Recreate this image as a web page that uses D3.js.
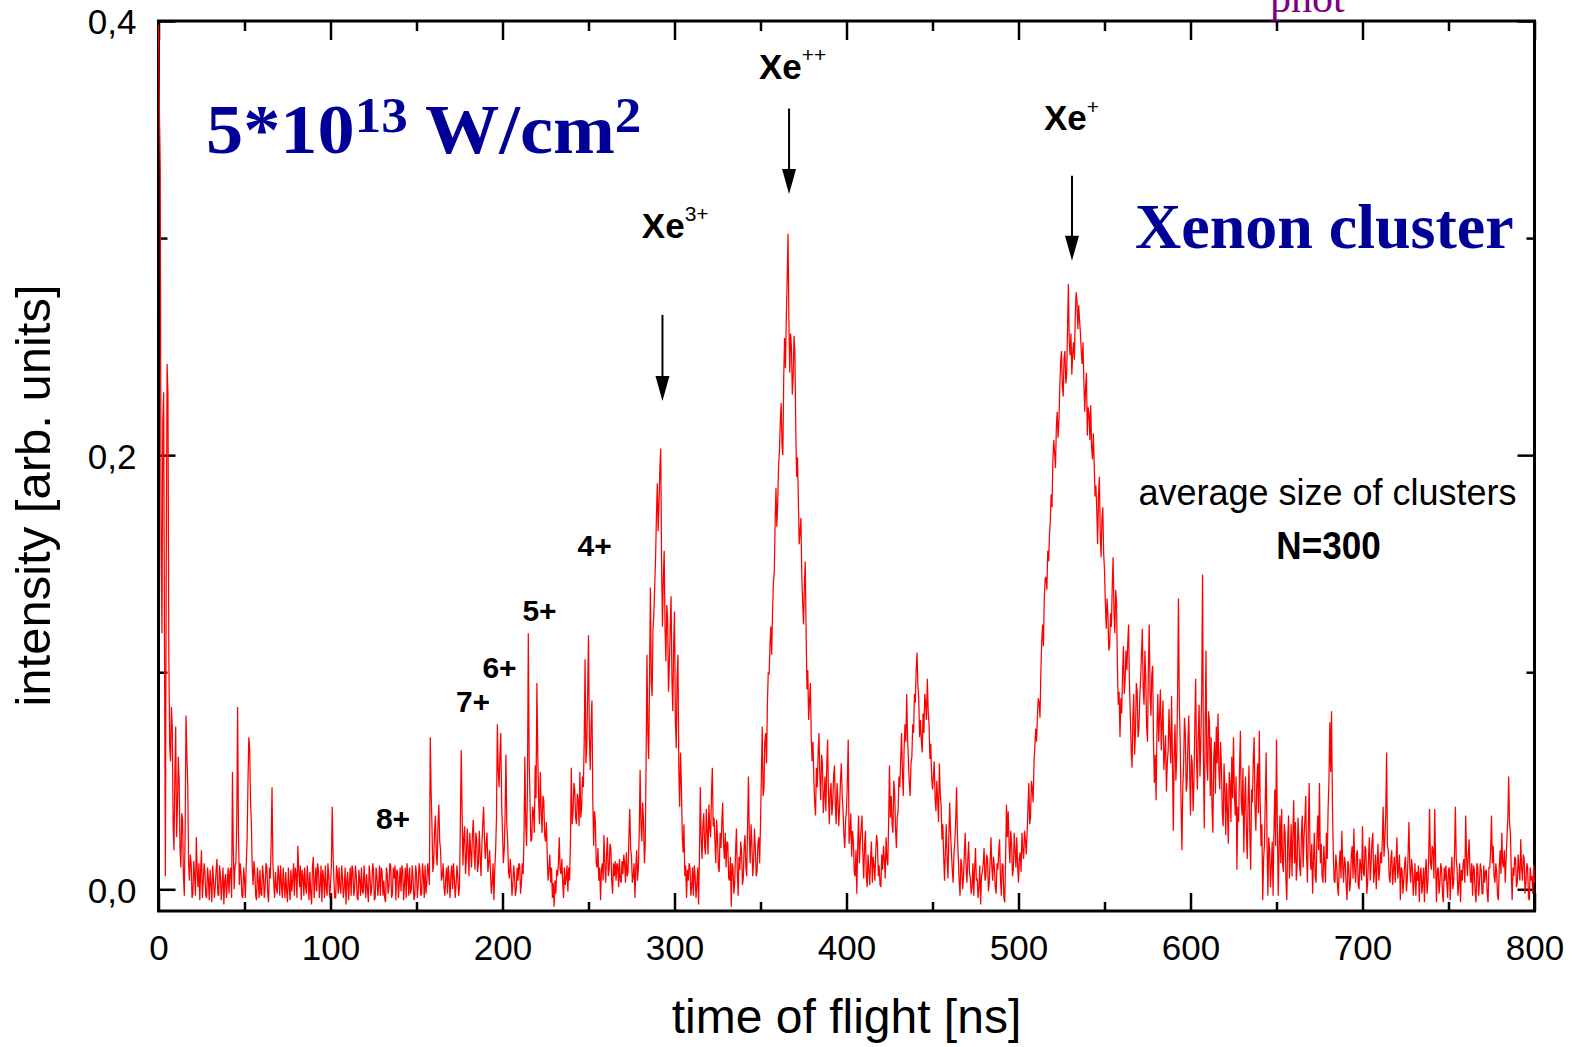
<!DOCTYPE html>
<html>
<head>
<meta charset="utf-8">
<script src="https://cdn.jsdelivr.net/npm/d3@7"></script>
<style>
  html, body { margin: 0; padding: 0; background: #ffffff; }
  svg { display: block; }
  text { white-space: pre; }
</style>
</head>
<body>
<svg id="chart" width="1576" height="1047"></svg>
<script>
// Time-of-flight sampling: samples on whole nanoseconds (signalNNN) and
// on the half nanoseconds in between (signalNNNHalf), starting at 0 ns
const tofStartNs = 0;
const tofStepNs = 1;

// Ion signal in arbitrary units, in blocks of 100 ns
const signal000 = [
  0.398, 0.333, 0.118, 0.229, 0.006, 0.242, 0.108, 0.059, 0.075, 0.018,
  0.075, 0.037, 0.050, 0.010, 0.032, -0.003, 0.080, 0.048, 0.004, 0.012,
  -0.002, 0.006, 0.024, 0.001, -0.005, 0.018, 0.003, 0.008, -0.004, 0.005,
  0.009, -0.006, 0.004, 0.001, 0.014, -0.003, 0.006, 0.002, -0.007, 0.007,
  0.003, -0.002, 0.010, 0.054, 0.000, 0.012, 0.084, 0.002, 0.007, -0.004,
  0.005, 0.011, 0.048, 0.065, 0.030, 0.002, 0.008, -0.005, 0.004, 0.009,
  -0.003, 0.006, 0.001, 0.010, -0.006, 0.005, 0.047, 0.003, 0.008, -0.002,
  0.006, 0.011, -0.004, 0.003, 0.008, -0.006, 0.002, 0.009, 0.004, -0.003,
  0.007, 0.020, 0.001, -0.005, 0.006, 0.010, -0.002, 0.004, 0.008, -0.007,
  0.015, 0.003, -0.001, 0.009, 0.002, -0.006, 0.005, 0.011, -0.003, 0.006
];
const signal000Half = [
  0.360, 0.160, 0.215, 0.110, 0.150, 0.228, 0.066, 0.084, 0.030, 0.052,
  0.024, 0.061, 0.019, 0.035, 0.006, 0.028, 0.062, 0.012, 0.016, -0.004,
  0.013, -0.003, 0.008, 0.012, 0.009, -0.004, 0.012, -0.003, 0.010, -0.005,
  0.002, 0.011, -0.004, 0.009, -0.002, 0.011, -0.005, 0.010, 0.004, -0.004,
  0.010, 0.008, -0.004, 0.018, 0.011, 0.031, 0.026, 0.012, -0.003, 0.010,
  -0.004, 0.022, 0.070, 0.041, 0.010, 0.013, -0.003, 0.010, -0.004, -0.002,
  0.011, -0.004, 0.012, -0.002, 0.010, 0.021, 0.012, -0.004, 0.001, 0.011,
  -0.003, 0.002, 0.010, -0.004, -0.001, 0.010, -0.005, -0.001, 0.012, 0.010,
  -0.004, 0.009, 0.011, 0.009, -0.003, 0.001, 0.011, -0.005, -0.002, 0.010,
  -0.004, 0.010, 0.012, -0.004, 0.011, 0.009, -0.004, 0.001, 0.012, -0.004
];
const signal100 = [
  0.002, 0.038, 0.004, -0.004, 0.007, 0.010, -0.002, 0.005, 0.001, -0.007,
  0.008, 0.003, -0.003, 0.009, 0.000, 0.006, -0.005, 0.004, 0.010, -0.002,
  0.003, 0.007, -0.006, 0.005, 0.001, 0.009, -0.004, 0.006, 0.002, -0.003,
  0.008, 0.004, -0.006, 0.007, 0.001, 0.011, -0.002, 0.005, -0.005, 0.008,
  0.003, -0.001, 0.009, 0.002, -0.004, 0.006, 0.010, 0.000, 0.005, -0.003,
  0.007, 0.002, 0.009, -0.002, 0.006, 0.011, 0.003, 0.008, 0.070, 0.029,
  0.012, 0.034, 0.011, 0.039, 0.018, 0.006, 0.001, 0.005, -0.002, 0.004,
  0.007, 0.000, 0.005, 0.002, 0.006, 0.001, 0.064, 0.011, 0.029, 0.014,
  0.018, 0.026, 0.010, 0.032, 0.009, 0.023, 0.012, 0.016, 0.020, 0.038,
  0.014, 0.026, 0.012, 0.008, 0.003, -0.005, 0.018, 0.076, 0.047, 0.072
];
const signal100Half = [
  0.011, 0.016, -0.004, 0.011, -0.002, 0.001, 0.011, -0.004, 0.010, 0.004,
  -0.005, 0.010, 0.011, -0.003, 0.011, -0.004, 0.009, -0.003, -0.001, 0.011,
  -0.004, 0.000, 0.011, -0.003, 0.012, -0.005, 0.010, -0.003, 0.011, 0.010,
  -0.003, -0.004, 0.010, -0.002, 0.012, -0.004, 0.010, 0.011, 0.009, -0.004,
  0.010, 0.011, -0.005, 0.010, 0.012, -0.003, -0.002, 0.011, -0.005, 0.011,
  -0.004, 0.012, -0.003, 0.012, -0.004, -0.002, 0.012, 0.002, 0.045, 0.008,
  0.027, 0.016, 0.030, 0.022, 0.004, 0.012, -0.003, 0.010, 0.011, -0.004,
  0.011, 0.012, -0.004, 0.011, -0.003, 0.030, 0.036, 0.024, 0.007, 0.028,
  0.006, 0.017, 0.025, 0.017, 0.026, 0.008, 0.027, 0.006, 0.030, 0.024,
  0.021, 0.008, 0.018, -0.002, 0.012, 0.009, 0.033, 0.055, 0.062, 0.040
];
const signal200 = [
  0.026, 0.018, 0.062, 0.022, 0.005, 0.008, 0.002, 0.006, 0.000, 0.004,
  0.011, 0.003, 0.007, 0.061, 0.020, 0.118, 0.041, 0.023, 0.036, 0.057,
  0.095, 0.041, 0.054, 0.026, 0.041, 0.022, 0.016, 0.009, 0.003, -0.004,
  -0.008, -0.002, 0.006, 0.024, 0.007, 0.003, 0.010, 0.005, -0.001, 0.004,
  0.056, 0.035, 0.046, 0.030, 0.041, 0.054, 0.038, 0.047, 0.106, 0.066,
  0.117, 0.055, 0.087, 0.020, 0.031, 0.010, 0.004, -0.005, 0.012, 0.025,
  0.003, 0.024, 0.009, 0.019, -0.002, 0.006, 0.004, 0.011, 0.014, 0.003,
  0.007, 0.012, 0.017, 0.008, 0.037, 0.015, 0.006, -0.004, 0.018, 0.010,
  0.055, 0.022, 0.031, 0.021, 0.108, 0.060, 0.139, 0.089, 0.127, 0.153,
  0.187, 0.178, 0.203, 0.121, 0.156, 0.105, 0.125, 0.103, 0.135, 0.082
];
const signal200Half = [
  0.012, 0.034, 0.030, 0.008, 0.014, -0.003, 0.011, -0.003, 0.010, 0.012,
  -0.002, 0.012, 0.024, 0.030, 0.046, 0.060, 0.022, 0.038, 0.026, 0.042,
  0.063, 0.030, 0.036, 0.043, 0.025, 0.031, 0.004, 0.016, 0.010, 0.003,
  0.004, 0.009, 0.012, 0.009, 0.014, -0.004, 0.002, 0.011, 0.010, 0.022,
  0.030, 0.049, 0.033, 0.044, 0.029, 0.033, 0.052, 0.068, 0.058, 0.090,
  0.070, 0.076, 0.041, 0.036, 0.012, 0.019, 0.010, 0.009, 0.004, 0.011,
  0.016, 0.006, 0.021, 0.004, 0.012, 0.013, 0.012, 0.001, 0.004, 0.013,
  0.016, 0.003, 0.006, 0.024, 0.019, 0.003, 0.012, 0.010, 0.004, 0.026,
  0.030, 0.040, 0.012, 0.060, 0.072, 0.098, 0.095, 0.120, 0.140, 0.172,
  0.165, 0.194, 0.150, 0.143, 0.120, 0.131, 0.091, 0.120, 0.097, 0.112
];
const signal300 = [
  0.128, 0.065, 0.108, 0.038, 0.048, 0.017, 0.006, -0.004, 0.004, 0.010,
  0.001, -0.003, 0.006, 0.002, -0.007, 0.047, 0.014, 0.035, 0.016, 0.027,
  0.039, 0.024, 0.056, 0.033, 0.012, 0.024, 0.008, 0.019, 0.040, 0.014,
  0.010, 0.021, 0.004, -0.008, 0.010, 0.003, 0.028, -0.003, 0.009, 0.017,
  0.005, 0.025, 0.006, 0.052, 0.012, 0.021, 0.013, 0.019, 0.008, 0.024,
  0.030, 0.075, 0.046, 0.072, 0.085, 0.099, 0.121, 0.128, 0.146, 0.185,
  0.178, 0.202, 0.224, 0.200, 0.254, 0.263, 0.302, 0.238, 0.249, 0.236,
  0.247, 0.190, 0.180, 0.165, 0.145, 0.122, 0.151, 0.092, 0.078, 0.095,
  0.059, 0.051, 0.034, 0.047, 0.072, 0.041, 0.058, 0.043, 0.036, 0.069,
  0.030, 0.049, 0.040, 0.057, 0.030, 0.041, 0.038, 0.058, 0.036, 0.019
];
const signal300Half = [
  0.078, 0.097, 0.056, 0.063, 0.025, 0.030, 0.011, 0.009, 0.012, -0.003,
  0.010, 0.011, -0.004, 0.010, 0.015, 0.024, 0.029, 0.020, 0.037, 0.016,
  0.028, 0.044, 0.029, 0.022, 0.032, 0.010, 0.026, 0.030, 0.021, 0.026,
  0.022, 0.005, 0.015, 0.012, -0.002, 0.017, 0.008, 0.015, 0.022, 0.002,
  0.020, 0.010, 0.030, 0.024, 0.030, 0.006, 0.028, 0.006, 0.021, 0.012,
  0.052, 0.043, 0.068, 0.058, 0.100, 0.112, 0.108, 0.141, 0.168, 0.167,
  0.195, 0.215, 0.205, 0.236, 0.240, 0.281, 0.262, 0.256, 0.228, 0.255,
  0.213, 0.199, 0.159, 0.171, 0.132, 0.140, 0.120, 0.101, 0.087, 0.070,
  0.068, 0.040, 0.056, 0.063, 0.052, 0.062, 0.035, 0.052, 0.056, 0.044,
  0.045, 0.034, 0.052, 0.039, 0.049, 0.029, 0.050, 0.043, 0.025, 0.032
];
const signal400 = [
  0.036, 0.069, 0.026, 0.015, 0.022, 0.006, -0.002, 0.034, 0.022, 0.034,
  0.005, 0.027, 0.001, 0.009, 0.014, 0.003, 0.011, 0.017, 0.021, 0.011,
  0.001, 0.009, 0.014, 0.024, 0.011, 0.057, 0.043, 0.026, 0.045, 0.019,
  0.036, 0.047, 0.072, 0.043, 0.076, 0.090, 0.059, 0.043, 0.061, 0.072,
  0.086, 0.109, 0.088, 0.078, 0.063, 0.072, 0.086, 0.097, 0.076, 0.067,
  0.046, 0.059, 0.036, 0.041, 0.058, 0.039, 0.030, 0.004, 0.030, 0.005,
  0.040, 0.017, 0.003, 0.022, 0.047, 0.014, -0.003, 0.011, 0.005, 0.026,
  0.003, 0.022, 0.005, 0.001, -0.003, 0.019, 0.005, 0.001, -0.007, 0.008,
  0.019, 0.006, 0.014, 0.003, 0.024, 0.004, 0.010, -0.002, 0.009, 0.023,
  -0.003, 0.011, -0.006, 0.039, 0.036, 0.012, 0.021, 0.009, 0.018, 0.024
];
const signal400Half = [
  0.050, 0.021, 0.035, 0.027, 0.008, 0.018, 0.020, 0.012, 0.028, 0.016,
  0.020, 0.006, 0.016, 0.002, 0.022, 0.015, 0.004, 0.025, 0.006, 0.002,
  0.016, 0.020, 0.005, 0.014, 0.031, 0.033, 0.030, 0.050, 0.028, 0.033,
  0.052, 0.060, 0.054, 0.065, 0.068, 0.070, 0.049, 0.058, 0.076, 0.090,
  0.101, 0.094, 0.070, 0.069, 0.081, 0.090, 0.078, 0.082, 0.060, 0.052,
  0.052, 0.042, 0.050, 0.031, 0.044, 0.023, 0.015, 0.018, 0.014, 0.024,
  0.026, 0.009, 0.017, 0.032, 0.024, 0.004, 0.014, 0.000, 0.016, 0.011,
  0.013, 0.008, -0.002, 0.012, 0.009, 0.004, -0.004, 0.011, 0.006, 0.012,
  0.004, 0.016, -0.001, 0.013, 0.010, 0.015, 0.001, 0.012, 0.017, 0.005,
  0.012, -0.004, 0.014, 0.024, 0.021, 0.027, 0.006, 0.026, 0.010, 0.011
];
const signal500 = [
  0.003, 0.017, 0.026, 0.014, 0.023, 0.026, 0.049, 0.033, 0.047, 0.058,
  0.074, 0.080, 0.086, 0.100, 0.122, 0.134, 0.144, 0.156, 0.163, 0.182,
  0.198, 0.201, 0.213, 0.208, 0.231, 0.248, 0.227, 0.248, 0.237, 0.279,
  0.246, 0.237, 0.252, 0.264, 0.271, 0.269, 0.256, 0.242, 0.234, 0.231,
  0.209, 0.219, 0.223, 0.198, 0.196, 0.186, 0.159, 0.190, 0.153, 0.176,
  0.147, 0.120, 0.126, 0.112, 0.121, 0.153, 0.118, 0.132, 0.085, 0.070,
  0.081, 0.112, 0.097, 0.101, 0.122, 0.081, 0.056, 0.090, 0.072, 0.091,
  0.074, 0.097, 0.120, 0.085, 0.097, 0.068, 0.122, 0.080, 0.103, 0.049,
  0.041, 0.090, 0.080, 0.064, 0.087, 0.062, 0.045, 0.064, 0.070, 0.089,
  0.027, 0.076, 0.061, 0.134, 0.068, 0.018, 0.058, 0.072, 0.049, 0.080
];
const signal500Half = [
  0.014, 0.008, 0.018, 0.027, 0.016, 0.037, 0.030, 0.050, 0.040, 0.066,
  0.068, 0.088, 0.079, 0.114, 0.112, 0.143, 0.138, 0.151, 0.170, 0.176,
  0.207, 0.194, 0.220, 0.216, 0.243, 0.232, 0.245, 0.233, 0.258, 0.252,
  0.256, 0.247, 0.244, 0.275, 0.258, 0.262, 0.248, 0.252, 0.220, 0.238,
  0.222, 0.207, 0.204, 0.210, 0.181, 0.175, 0.181, 0.165, 0.170, 0.155,
  0.132, 0.134, 0.110, 0.127, 0.140, 0.128, 0.138, 0.103, 0.091, 0.088,
  0.100, 0.090, 0.110, 0.113, 0.095, 0.064, 0.079, 0.062, 0.095, 0.070,
  0.088, 0.108, 0.092, 0.110, 0.075, 0.102, 0.090, 0.099, 0.068, 0.062,
  0.073, 0.068, 0.092, 0.076, 0.055, 0.071, 0.058, 0.083, 0.058, 0.060,
  0.062, 0.050, 0.090, 0.085, 0.040, 0.046, 0.079, 0.045, 0.068, 0.055
];
const signal600 = [
  0.034, 0.058, 0.049, 0.097, 0.046, 0.085, 0.068, 0.145, 0.028, 0.110,
  0.050, 0.077, 0.070, 0.026, 0.068, 0.075, 0.081, 0.046, 0.056, 0.029,
  0.046, 0.049, 0.021, 0.049, 0.061, 0.070, 0.034, 0.009, 0.031, 0.073,
  0.034, 0.017, 0.052, 0.014, 0.057, 0.009, 0.040, 0.070, 0.027, 0.058,
  0.073, 0.020, -0.005, 0.021, 0.063, -0.003, 0.018, 0.011, -0.003, 0.046,
  0.069, -0.003, 0.034, 0.037, 0.008, 0.026, -0.005, 0.034, 0.015, 0.006,
  0.041, 0.031, 0.011, 0.024, 0.006, 0.034, 0.024, 0.043, 0.003, 0.049,
  0.009, -0.002, 0.026, 0.003, 0.034, 0.049, 0.021, 0.003, 0.012, 0.026,
  0.037, 0.077, 0.082, 0.018, 0.003, 0.011, -0.003, 0.018, 0.027, 0.003,
  0.012, -0.005, 0.011, 0.003, 0.020, 0.028, 0.003, 0.018, 0.000, 0.011
];
const signal600Half = [
  0.062, 0.036, 0.075, 0.060, 0.072, 0.052, 0.090, 0.062, 0.072, 0.058,
  0.082, 0.043, 0.038, 0.060, 0.044, 0.058, 0.055, 0.068, 0.035, 0.058,
  0.025, 0.036, 0.054, 0.031, 0.042, 0.045, 0.052, 0.038, 0.055, 0.040,
  0.056, 0.040, 0.026, 0.042, 0.025, 0.046, 0.060, 0.038, 0.048, 0.035,
  0.041, 0.030, 0.014, 0.042, 0.020, 0.024, 0.001, 0.022, 0.026, 0.020,
  0.030, 0.019, 0.012, 0.012, 0.030, 0.004, 0.022, 0.005, 0.030, 0.025,
  0.012, 0.004, 0.033, 0.010, 0.026, 0.010, 0.032, 0.015, 0.028, 0.018,
  0.021, 0.014, 0.006, 0.023, 0.018, 0.012, 0.006, 0.020, 0.003, 0.014,
  0.050, 0.054, 0.040, 0.004, 0.016, 0.001, 0.012, 0.005, 0.011, 0.015,
  0.002, 0.013, -0.001, 0.016, 0.005, 0.009, 0.016, 0.002, 0.014, 0.004
];
const signal700 = [
  0.029, 0.006, 0.018, 0.003, 0.024, 0.012, 0.026, 0.008, 0.000, 0.021,
  0.009, 0.012, 0.038, 0.023, 0.063, 0.018, 0.003, 0.018, 0.009, 0.003,
  0.024, 0.010, -0.005, 0.009, 0.004, 0.015, 0.004, 0.031, 0.003, 0.010,
  0.004, -0.003, 0.004, -0.006, 0.010, 0.003, -0.006, 0.014, 0.003, 0.037,
  0.009, 0.018, 0.037, -0.006, 0.010, 0.003, 0.009, -0.006, 0.004, 0.003,
  0.009, -0.005, 0.015, 0.003, 0.038, 0.009, 0.003, -0.006, 0.004, 0.014,
  0.034, 0.006, 0.023, 0.003, -0.003, 0.009, -0.006, 0.010, 0.003, 0.009,
  -0.002, 0.003, 0.009, -0.006, 0.010, 0.034, 0.020, 0.003, 0.008, -0.005,
  0.018, 0.026, 0.010, 0.003, 0.024, 0.052, 0.026, -0.005, 0.006, 0.014,
  0.003, 0.009, 0.023, 0.004, 0.014, 0.003, 0.010, -0.005, 0.004, -0.002,
  0.003
];
const signal700Half = [
  0.008, 0.020, -0.002, 0.015, 0.004, 0.022, 0.003, 0.016, 0.012, 0.004,
  0.017, 0.022, 0.015, 0.034, 0.020, 0.006, 0.014, 0.002, 0.015, 0.012,
  0.005, 0.016, 0.010, -0.002, 0.012, -0.001, 0.016, 0.010, 0.014, -0.003,
  0.012, 0.008, 0.011, 0.007, -0.002, 0.010, 0.008, -0.002, 0.016, 0.012,
  0.020, 0.005, 0.012, 0.009, -0.002, 0.012, -0.002, 0.010, 0.011, -0.004,
  0.010, 0.008, 0.000, 0.016, 0.014, -0.003, 0.012, 0.009, 0.012, 0.003,
  0.015, 0.016, 0.008, 0.012, 0.011, -0.002, 0.012, -0.003, 0.012, -0.002,
  0.011, 0.008, -0.002, 0.010, 0.018, 0.012, 0.006, 0.012, -0.003, 0.010,
  0.007, 0.012, 0.018, 0.014, 0.033, 0.030, 0.008, 0.010, 0.015, 0.001,
  0.016, 0.004, 0.010, 0.016, -0.002, 0.012, -0.004, 0.010, 0.006, 0.011
];

// Axis ticks
const xTicksMajor = [0, 100, 200, 300, 400, 500, 600, 700, 800];
const xTicksMinor = [50, 150, 250, 350, 450, 550, 650, 750];
const yTicksMajor = [0.0, 0.2, 0.4];
const yTicksMinor = [0.1, 0.3];

// Ion peak annotations (time in ns, intensity in arb. units)
const ionLabels = [
  { name: "Xe", charge: "3+", t: 281.0, v: 0.300, supShift: -17 },
  { name: "Xe", charge: "++", t: 349.1, v: 0.3735, supShift: -17 },
  { name: "Xe", charge: "+",  t: 514.8, v: 0.3498, supShift: -16 }
];
const ionArrows = [
  { t: 293.0, from: 0.2646, to: 0.2250 },
  { t: 366.6, from: 0.3597, to: 0.3203 },
  { t: 531.1, from: 0.3287, to: 0.2896 }
];
const chargeLabels = [
  { text: "8+", t: 126.4, v: 0.0280 },
  { text: "7+", t: 172.9, v: 0.0815 },
  { text: "6+", t: 188.3, v: 0.0974 },
  { text: "5+", t: 211.6, v: 0.1236 },
  { text: "4+", t: 243.6, v: 0.1535 }
];

const SANS = "'Liberation Sans', Arial, Helvetica, sans-serif";
const SERIF = "'Liberation Serif', 'Times New Roman', Times, serif";

const svg = d3.select("#chart");
const plotLeft = 158.5, plotRight = 1534.5, plotTop = 21, plotBottom = 911;

const x = d3.scaleLinear().domain([0, 800]).range([plotLeft, plotRight]);
const y = d3.scaleLinear().domain([-0.01, 0.4]).range([plotBottom, plotTop]);

const commaFmt = d3.formatLocale({ decimal: ",", thousands: ".", grouping: [3], currency: ["", ""] }).format(".1f");

function styleAxis(g, withLabels) {
  g.select(".domain").remove();
  g.selectAll(".tick line").attr("stroke", "#000").attr("stroke-width", 2.5);
  if (withLabels) {
    g.selectAll(".tick text")
      .attr("font-family", SANS)
      .attr("font-size", 35)
      .attr("fill", "#000");
  } else {
    g.selectAll(".tick text").remove();
  }
}

// bottom axis
svg.append("g").attr("transform", `translate(0,${plotBottom})`)
  .call(d3.axisBottom(x).tickValues(xTicksMajor).tickSize(-18).tickPadding(24).tickFormat(d3.format("d")))
  .call(g => styleAxis(g, true));
svg.append("g").attr("transform", `translate(0,${plotBottom})`)
  .call(d3.axisBottom(x).tickValues(xTicksMinor).tickSize(-9))
  .call(g => styleAxis(g, false));
// top axis
svg.append("g").attr("transform", `translate(0,${plotTop})`)
  .call(d3.axisTop(x).tickValues(xTicksMajor).tickSize(-19))
  .call(g => styleAxis(g, false));
svg.append("g").attr("transform", `translate(0,${plotTop})`)
  .call(d3.axisTop(x).tickValues(xTicksMinor).tickSize(-10))
  .call(g => styleAxis(g, false));
// left axis
svg.append("g").attr("transform", `translate(${plotLeft},0)`)
  .call(d3.axisLeft(y).tickValues(yTicksMajor).tickSize(-17).tickPadding(22).tickFormat(commaFmt))
  .call(g => styleAxis(g, true))
  .call(g => g.selectAll(".tick text").attr("dy", "0.37em"));
svg.append("g").attr("transform", `translate(${plotLeft},0)`)
  .call(d3.axisLeft(y).tickValues(yTicksMinor).tickSize(-9))
  .call(g => styleAxis(g, false));
// right axis
svg.append("g").attr("transform", `translate(${plotRight},0)`)
  .call(d3.axisRight(y).tickValues(yTicksMajor).tickSize(-17))
  .call(g => styleAxis(g, false));
svg.append("g").attr("transform", `translate(${plotRight},0)`)
  .call(d3.axisRight(y).tickValues(yTicksMinor).tickSize(-8))
  .call(g => styleAxis(g, false));

// plot frame
svg.append("rect")
  .attr("x", plotLeft).attr("y", plotTop)
  .attr("width", plotRight - plotLeft).attr("height", plotBottom - plotTop)
  .attr("fill", "none").attr("stroke", "#000").attr("stroke-width", 3);

// signal trace: whole-ns samples interleaved with the half-ns samples
const whole = [].concat(signal000, signal100, signal200, signal300,
                        signal400, signal500, signal600, signal700);
const half = [].concat(signal000Half, signal100Half, signal200Half, signal300Half,
                       signal400Half, signal500Half, signal600Half, signal700Half);
const points = [];
whole.forEach((v, i) => {
  const t = tofStartNs + i * tofStepNs;
  points.push({ t, v });
  if (i < half.length) points.push({ t: t + tofStepNs / 2, v: half[i] });
});
svg.append("path")
  .datum(points)
  .attr("fill", "none")
  .attr("stroke", "#ff0000")
  .attr("stroke-width", 1.25)
  .attr("stroke-linejoin", "miter")
  .attr("d", d3.line().x(d => x(d.t)).y(d => y(d.v)));

// axis titles
svg.append("text")
  .attr("x", (plotLeft + plotRight) / 2).attr("y", 1033)
  .attr("text-anchor", "middle")
  .attr("font-family", SANS).attr("font-size", 48)
  .text("time of flight [ns]");
svg.append("text")
  .attr("transform", "translate(50,495.5) rotate(-90)")
  .attr("text-anchor", "middle")
  .attr("font-family", SANS).attr("font-size", 49)
  .text("intensity [arb. units]");

// laser intensity heading
const heading = svg.append("text")
  .attr("transform", "translate(206,153) scale(1.062,1)")
  .attr("font-family", SERIF).attr("font-weight", "bold")
  .attr("font-size", 70).attr("fill", "#000099");
heading.append("tspan").text("5*10");
heading.append("tspan").attr("font-size", 50).attr("dy", -21).text("13");
heading.append("tspan").attr("dy", 21).text(" W/cm");
heading.append("tspan").attr("font-size", 50).attr("dy", -21).text("2");

svg.append("text")
  .attr("x", 1135).attr("y", 248.3)
  .attr("font-family", SERIF).attr("font-weight", "bold")
  .attr("font-size", 64).attr("fill", "#000099")
  .text("Xenon cluster");

svg.append("text")
  .attr("x", 1270).attr("y", 12)
  .attr("font-family", SERIF).attr("font-size", 42)
  .attr("fill", "#800080")
  .text("phot");

// cluster size note
svg.append("text")
  .attr("x", 1327.5).attr("y", 505)
  .attr("text-anchor", "middle")
  .attr("font-family", SANS).attr("font-size", 36)
  .text("average size of clusters");
svg.append("text")
  .attr("transform", "translate(1328.5,558.5) scale(0.9,1)")
  .attr("text-anchor", "middle")
  .attr("font-family", SANS).attr("font-weight", "bold").attr("font-size", 39)
  .text("N=300");

// ion labels with superscript charge
ionLabels.forEach(d => {
  const t = svg.append("text")
    .attr("x", x(d.t)).attr("y", y(d.v))
    .attr("font-family", SANS).attr("font-weight", "bold")
    .attr("font-size", 35).attr("fill", "#000");
  t.append("tspan").text(d.name);
  t.append("tspan").attr("dy", d.supShift).attr("font-size", 21)
    .attr("font-weight", "normal").text(d.charge);
});

// arrows pointing at the ion peaks
const headLen = 25, headHalf = 7;
ionArrows.forEach(d => {
  const ax = x(d.t), y0 = y(d.from), y1 = y(d.to);
  svg.append("line")
    .attr("x1", ax).attr("x2", ax)
    .attr("y1", y0).attr("y2", y1 - headLen + 2)
    .attr("stroke", "#000").attr("stroke-width", 2);
  svg.append("path")
    .attr("d", `M${ax - headHalf},${y1 - headLen} L${ax + headHalf},${y1 - headLen} L${ax},${y1} Z`)
    .attr("fill", "#000");
});

// cluster charge-state labels
chargeLabels.forEach(d => {
  svg.append("text")
    .attr("x", x(d.t)).attr("y", y(d.v))
    .attr("font-family", SANS).attr("font-weight", "bold")
    .attr("font-size", 30).attr("fill", "#000")
    .text(d.text);
});
</script>
</body>
</html>
